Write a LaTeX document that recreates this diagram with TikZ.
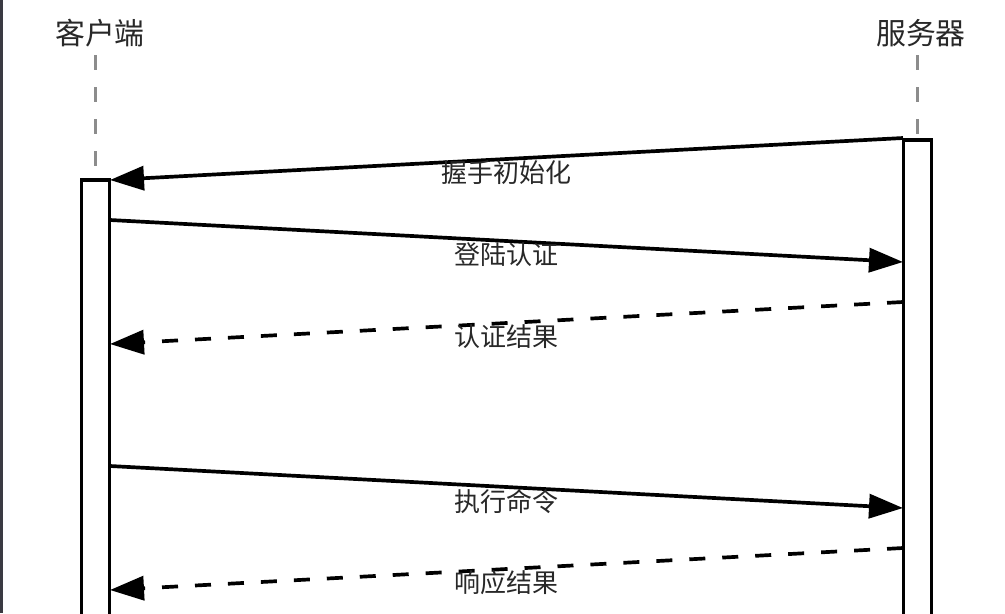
\documentclass[tikz,border=0pt]{standalone}
\usepackage{fontspec}
\newfontfamily\cjk{Noto Sans CJK SC}
\usepackage{tikz}
\usetikzlibrary{arrows.meta}
\definecolor{txt}{HTML}{282828}
\definecolor{edgegray}{HTML}{3A3A42}

\begin{document}
\begin{tikzpicture}
      [line width=2.1pt, every node/.style={font=\cjk, text=txt}]

      \tikzstyle{actor} = [font=\cjk\fontsize{17pt}{20pt}\selectfont]
      \tikzstyle{lifeline} = [draw=gray!90, line width=1.5pt, dash pattern=on 0.3cm off 0.34cm]
      \tikzstyle{bar} = [draw, fill=white, minimum width=0.56cm, anchor=north, inner sep=0pt]
      \tikzstyle{msg} = [-{Triangle[length=0.68cm,width=0.48cm]}]
      \tikzstyle{reply} = [msg, dash pattern=on 0.32cm off 0.34cm]
      \tikzstyle{msglabel} = [midway, below, inner sep=0pt, font=\cjk\fontsize{14.8pt}{17pt}\selectfont]

      \useasboundingbox (0,0) rectangle (20.1,-12.26);
      \fill[edgegray] (0,0) rectangle (0.06,-12.26);

      \node[actor]   (client) at (2.0,-0.66) {客户端};
      \node[actor]   (server) at (18.42,-0.66) {服务器};

      \node[bar, minimum height=9.3cm]  (cbar) at (1.91,-3.56) {};
      \node[bar, minimum height=10.1cm] (sbar) at (18.35,-2.76) {};

      \coordinate (ctop) at (1.91,-1.1);
      \coordinate (stop) at (18.35,-1.1);
      \draw[lifeline] (ctop) -- (cbar.north);
      \draw[lifeline] (stop) -- (sbar.north);

      \coordinate (c1) at (2.2,-3.6);
      \coordinate (c2) at (2.2,-4.4);
      \coordinate (c3) at (2.2,-6.88);
      \coordinate (c4) at (2.2,-9.32);
      \coordinate (c5) at (2.2,-11.8);
      \coordinate (s1) at (18.06,-2.76);
      \coordinate (s2) at (18.06,-5.24);
      \coordinate (s3) at (18.06,-6.04);
      \coordinate (s4) at (18.06,-10.16);
      \coordinate (s5) at (18.06,-10.96);

      \path
            (s1) edge [msg]   node[msglabel] {握手初始化} (c1)
            (c2) edge [msg]   node[msglabel] {登陆认证} (s2)
            (s3) edge [reply] node[msglabel] {认证结果} (c3)
            (c4) edge [msg]   node[msglabel] {执行命令} (s4)
            (s5) edge [reply] node[msglabel] {响应结果} (c5);
\end{tikzpicture}
\end{document}
